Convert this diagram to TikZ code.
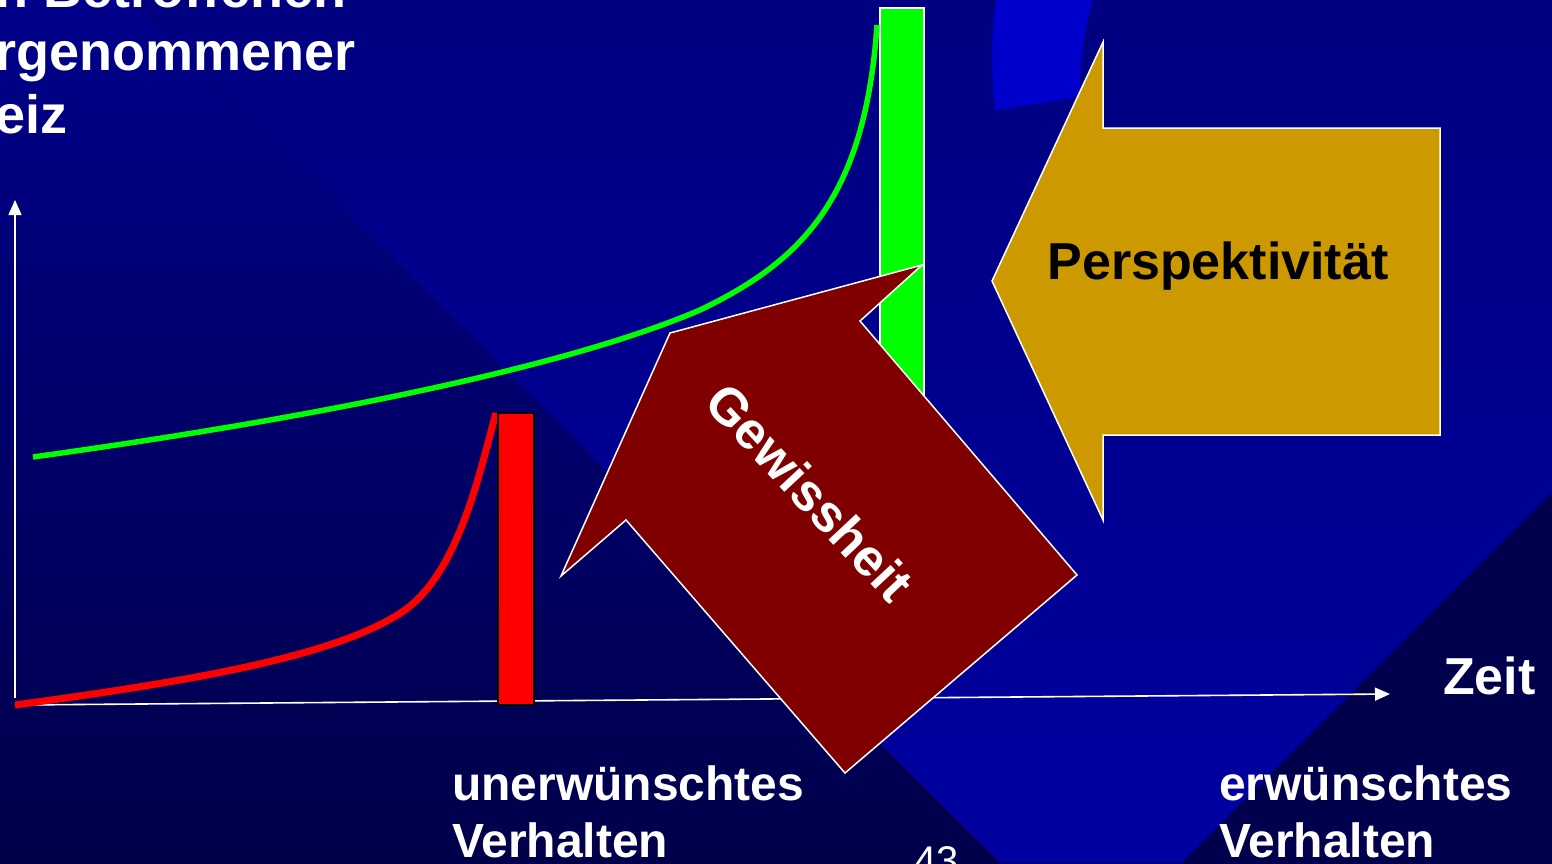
\documentclass[tikz,border=0pt]{standalone}
\usepackage{fontspec}
\setmainfont{Liberation Sans}
\usepackage{tikz}
\usetikzlibrary{arrows.meta,calc}
\definecolor{bgtop}{HTML}{00008A}
\definecolor{bgbottom}{HTML}{00004A}
\definecolor{bandtop}{HTML}{000080}
\definecolor{bandbottom}{HTML}{0000A0}
\definecolor{bgdark}{HTML}{00004C}
\definecolor{ringblue}{HTML}{0000CC}
\definecolor{certred}{HTML}{800000}
\definecolor{perspgold}{HTML}{CC9900}
\definecolor{stimgreen}{HTML}{00FF00}
\definecolor{stimred}{HTML}{FF0000}
\tikzset{
    blockarrow/.style={draw=white, line width=1.5pt, fill=#1, line join=miter},
    stimbar/.style={fill=#1, line width=1.6pt},
    stimcurve/.style={draw=#1, line width=6pt},
    chartaxis/.style={draw=white, line width=1.6pt,
        -{Triangle[length=15pt,width=13pt]}},
    bigtext/.style={font=\fontsize{52}{63}\selectfont\bfseries,
        text=white, inner sep=0pt},
    midtext/.style={font=\fontsize{48}{57}\selectfont\bfseries,
        text=white, inner sep=0pt},
    pagetext/.style={font=\fontsize{40}{48}\selectfont,
        text=white, inner sep=0pt},
}

\begin{document}
\begin{tikzpicture}[x=1pt, y=-1pt]

    \path[use as bounding box] (0,0) rectangle (1552,863);
    \clip (0,0) rectangle (1552,863);

    % ── Background ─────────────────────────────────────────────────────────
    \fill[top color=bgtop, bottom color=bgbottom] (0,0) rectangle (1552,863);
    \fill[top color=bandtop, bottom color=bandbottom]
        (133,0) -- (1000,863) -- (1182,863) -- (1552,493) -- (1552,0) -- cycle;
    \fill[bgdark] (1552,493) -- (1182,863) -- (1552,863) -- cycle;

    \coordinate (ringo) at (1400,57);
    \coordinate (ringi) at (1400,90);
    \fill[ringblue] ($(ringo)+(172.5:408)$)
        arc[start angle=172.5, end angle=200, radius=408]
        -- ($(ringi)+(205:320)$)
        arc[start angle=205, end angle=178.75, radius=320] -- cycle;

    % ── Perspektivitaet arrow ──────────────────────────────────────────────
    \draw[blockarrow=perspgold] (992,281) -- (1103,42) -- (1103,128)
        -- (1440,128) -- (1440,435) -- (1103,435) -- (1103,520) -- cycle;
    \node[bigtext, text=black, anchor=base] (persplabel) at (1218,279)
        {Perspektivität};

    % ── Axes ───────────────────────────────────────────────────────────────
    \coordinate (origin) at (15,705);
    \coordinate (ybase)  at (15,698);
    \coordinate (ytop)   at (15,200);
    \coordinate (xend)   at (1390,694);
    \draw[chartaxis] (ybase) -- (ytop);
    \draw[chartaxis] (origin) -- (xend);

    % ── Desired behaviour: green ───────────────────────────────────────────
    \coordinate (gstart) at (33,457);
    \coordinate (gknee)  at (700,310);
    \coordinate (gend)   at (877,25);
    \draw[stimbar=stimgreen, draw=white] (880,8) rectangle (924,697);
    \draw[stimcurve=stimgreen, line width=5.5pt]
        (gstart) .. controls (300,420) and (560,370) .. (gknee)
        .. controls (800,262) and (865,200) .. (gend);

    % ── Undesired behaviour: red ───────────────────────────────────────────
    \coordinate (rknee) at (405,610);
    \coordinate (rend)  at (496,413);
    \draw[stimcurve=stimred, line width=7pt]
        (origin) .. controls (200,680) and (340,655) .. (rknee)
        .. controls (460,570) and (480,470) .. (rend);
    \draw[stimbar=stimred, draw=black] (498,413) rectangle (534,705);

    % ── Gewissheit arrow ───────────────────────────────────────────────────
    \draw[blockarrow=certred] (670,333) -- (922,265) -- (860,321)
        -- (1077,575) -- (845,773) -- (626,520) -- (561,576) -- cycle;
    \node[bigtext, rotate=-47] (certlabel) at (810,492) {Gewissheit};

    % ── Labels ─────────────────────────────────────────────────────────────
    \node[bigtext, font=\fontsize{54}{63}\selectfont\bfseries,
          align=left, anchor=north west] (stimlabel) at (-5,-32)
        {n Betroffenen\\rgenommener\\eiz};
    \node[bigtext, anchor=base west] (timelabel) at ([xshift=53pt]xend) {Zeit};
    \node[midtext, align=left, anchor=north west] (badlabel) at (452,766)
        {unerwünschtes\\Verhalten};
    \node[midtext, align=left, anchor=north west] (goodlabel) at (1219,766)
        {erwünschtes\\Verhalten};
    \node[pagetext, anchor=base west] (pagenum) at (914,874) {43};

\end{tikzpicture}
\end{document}
